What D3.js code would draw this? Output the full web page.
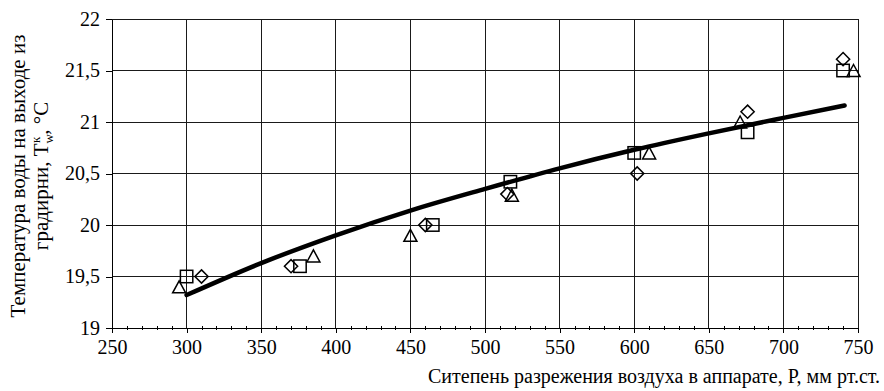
<!DOCTYPE html>
<html>
<head>
<meta charset="utf-8">
<script src="https://cdn.jsdelivr.net/npm/d3@7/dist/d3.min.js"></script>
<style>
    body { margin: 0; background: #fff; }
    svg text { font-family: "Liberation Serif", "Times New Roman", serif; fill: #000; }
</style>
</head>
<body>
<div id="wrapper"></div>
<script>

// Values
const xTicks = [250, 300, 350, 400, 450, 500, 550, 600, 650, 700, 750]
const yTicks = [19, 19.5, 20, 20.5, 21, 21.5, 22]

const squarePoints = [
    [300, 19.5], [376, 19.6], [465, 20.0], [517, 20.42], [600, 20.7], [676, 20.9], [740, 21.5]
]
const diamondPoints = [
    [310, 19.5], [370, 19.6], [460, 20.0], [515, 20.3], [602, 20.5], [676, 21.1], [740, 21.61]
]
const trianglePoints = [
    [295, 19.4], [385, 19.7], [450, 19.9], [518, 20.29], [610, 20.7], [671, 21.0], [747, 21.5]
]
// trend line, read at several points along the curve
const trendX = [300, 350, 400, 450, 500, 550, 600, 650, 700, 741]
const trendY = [19.32, 19.63, 19.9, 20.14, 20.35, 20.55, 20.73, 20.89, 21.04, 21.16]

const yLabelLine1 = "Температура воды на выходе из"
const xLabel = "Ситепень разрежения воздуха в аппарате, P, мм рт.ст."

async function draw(){

    // 1. Chart dimensions
    let dimensions = {
        width: 884,
        height: 391,
        margin: {
            top: 19,
            right: 26,
            bottom: 63,
            left: 112,
        },
    }
    dimensions.boundedWidth = dimensions.width - dimensions.margin.left - dimensions.margin.right
    dimensions.boundedHeight = dimensions.height - dimensions.margin.top - dimensions.margin.bottom

    // 2. Scales
    const xScale = d3.scaleLinear()
        .domain([250, 750])
        .range([0, dimensions.boundedWidth])

    const yScale = d3.scaleLinear()
        .domain([19, 22])
        .range([dimensions.boundedHeight, 0])

    const fmt = d => String(d).replace(".", ",")

    // 3. Canvas
    const wrapper = d3.select("#wrapper")
        .append("svg")
        .attr("width", dimensions.width)
        .attr("height", dimensions.height)

    const bounds = wrapper.append("g")
        .attr("transform", `translate(${dimensions.margin.left}, ${dimensions.margin.top})`)

    // gridlines
    const grid = bounds.append("g")
        .attr("class", "grid")
        .attr("shape-rendering", "crispEdges")

    grid.selectAll("line.v")
        .data(xTicks)
        .join("line")
        .attr("class", "v")
        .attr("x1", d => xScale(d))
        .attr("x2", d => xScale(d))
        .attr("y1", 0)
        .attr("y2", dimensions.boundedHeight)
        .attr("stroke", "#1a1a1a")
        .attr("stroke-width", 1)

    grid.selectAll("line.h")
        .data(yTicks)
        .join("line")
        .attr("class", "h")
        .attr("x1", 0)
        .attr("x2", dimensions.boundedWidth)
        .attr("y1", d => yScale(d))
        .attr("y2", d => yScale(d))
        .attr("stroke", "#1a1a1a")
        .attr("stroke-width", 1)

    // axes
    const xAxis = d3.axisBottom(xScale)
        .tickValues(xTicks)
        .tickFormat(fmt)
        .tickSizeInner(5)
        .tickSizeOuter(0)
        .tickPadding(7)

    bounds.append("g")
        .attr("class", "x-axis")
        .attr("transform", `translate(0, ${dimensions.boundedHeight})`)
        .call(xAxis)

    const xMinor = d3.axisBottom(xScale)
        .tickValues(d3.range(260, 750, 10).filter(d => d % 50 !== 0))
        .tickFormat("")
        .tickSizeInner(-4)
        .tickSizeOuter(0)

    bounds.append("g")
        .attr("class", "x-minor")
        .attr("transform", `translate(0, ${dimensions.boundedHeight + 2})`)
        .call(xMinor)
        .call(g => g.select(".domain").remove())

    const yAxis = d3.axisLeft(yScale)
        .tickValues(yTicks)
        .tickFormat(fmt)
        .tickSizeInner(6)
        .tickSizeOuter(0)
        .tickPadding(6)

    bounds.append("g")
        .attr("class", "y-axis")
        .call(yAxis)

    bounds.selectAll(".x-axis, .y-axis, .x-minor")
        .attr("shape-rendering", "crispEdges")
    bounds.selectAll(".domain, .tick line").attr("stroke", "#000")
    bounds.selectAll(".tick text")
        .attr("font-family", "Liberation Serif, serif")
        .attr("font-size", 20)
        .attr("fill", "#000")

    // markers
    const markers = bounds.append("g").attr("class", "markers")
    const sq = 6.2
    markers.selectAll("rect")
        .data(squarePoints)
        .join("rect")
        .attr("x", d => xScale(d[0]) - sq)
        .attr("y", d => yScale(d[1]) - sq)
        .attr("width", sq * 2)
        .attr("height", sq * 2)
        .attr("fill", "none")
        .attr("stroke", "#000")
        .attr("stroke-width", 1.5)

    const dm = 6.6
    markers.selectAll("path.diamond")
        .data(diamondPoints)
        .join("path")
        .attr("class", "diamond")
        .attr("d", d => {
            const cx = xScale(d[0]), cy = yScale(d[1])
            return `M${cx},${cy - dm}L${cx + dm},${cy}L${cx},${cy + dm}L${cx - dm},${cy}Z`
        })
        .attr("fill", "none")
        .attr("stroke", "#000")
        .attr("stroke-width", 1.5)

    const tw = 6.5, th = 6
    markers.selectAll("path.triangle")
        .data(trianglePoints)
        .join("path")
        .attr("class", "triangle")
        .attr("d", d => {
            const cx = xScale(d[0]), cy = yScale(d[1])
            return `M${cx},${cy - th}L${cx + tw},${cy + th}L${cx - tw},${cy + th}Z`
        })
        .attr("fill", "none")
        .attr("stroke", "#000")
        .attr("stroke-width", 1.5)

    // trend line
    const lineGenerator = d3.line()
        .x(d => xScale(d[0]))
        .y(d => yScale(d[1]))
        .curve(d3.curveMonotoneX)

    bounds.append("path")
        .datum(trendX.map((x, i) => [x, trendY[i]]))
        .attr("d", lineGenerator)
        .attr("fill", "none")
        .attr("stroke", "#000")
        .attr("stroke-width", 4.5)
        .attr("stroke-linecap", "round")

    // axis titles
    const yTitle = wrapper.append("g")
        .attr("transform", `translate(0, 176) rotate(-90)`)

    yTitle.append("text")
        .attr("x", 0)
        .attr("y", 25)
        .attr("text-anchor", "middle")
        .attr("font-size", 21)
        .text(yLabelLine1)

    const line2 = yTitle.append("text")
        .attr("x", 0)
        .attr("y", 48)
        .attr("text-anchor", "middle")
        .attr("font-size", 21)
    line2.append("tspan").text("градирни, T")
    line2.append("tspan").attr("font-size", 13).attr("dy", 5).text("w")
    line2.append("tspan").attr("font-size", 13).attr("dx", -9).attr("dy", -13).text("к")
    line2.append("tspan").attr("dx", 2).attr("dy", 8).text(", °C")

    wrapper.append("text")
        .attr("x", 880)
        .attr("y", 383)
        .attr("text-anchor", "end")
        .attr("font-size", 20)
        .text(xLabel)
}

draw()
</script>
</body>
</html>
